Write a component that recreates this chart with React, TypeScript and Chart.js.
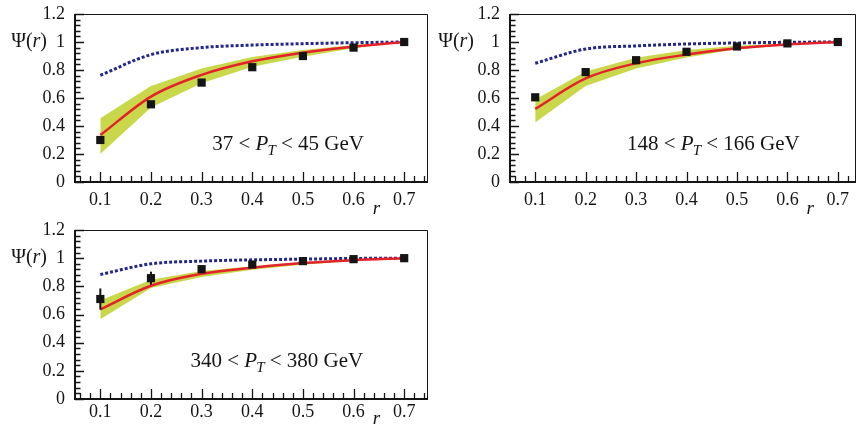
import React, { useEffect, useRef } from "react";
import { Chart, registerables } from "chart.js";

Chart.register(...registerables);

// ---------- data ----------
const R = [0.1, 0.2, 0.3, 0.4, 0.5, 0.6, 0.7];
const X_TICKS = [0.1, 0.2, 0.3, 0.4, 0.5, 0.6, 0.7];
const Y_TICKS = [0, 0.2, 0.4, 0.6, 0.8, 1, 1.2];

// panel 1 : 37 < PT < 45 GeV
const DATA_1 = [0.3, 0.555, 0.71, 0.82, 0.9, 0.96, 1.0];
const ERR_1 = [0.012, 0.01, 0.008, 0.006, 0.005, 0.004, 0.002];
const FIT_1 = [0.335, 0.61, 0.765, 0.862, 0.924, 0.966, 1.0];
const BAND_HI_1 = [0.455, 0.685, 0.81, 0.893, 0.943, 0.978, 1.0];
const BAND_LO_1 = [0.2, 0.533, 0.705, 0.824, 0.895, 0.955, 1.0];
const DOT_1 = [0.762, 0.91, 0.96, 0.978, 0.988, 0.995, 1.0];

// panel 2 : 148 < PT < 166 GeV
const DATA_2 = [0.605, 0.785, 0.87, 0.93, 0.968, 0.99, 1.0];
const ERR_2 = [0.012, 0.01, 0.008, 0.006, 0.005, 0.004, 0.002];
const FIT_2 = [0.522, 0.74, 0.848, 0.91, 0.955, 0.982, 1.0];
const BAND_HI_2 = [0.59, 0.79, 0.888, 0.943, 0.974, 0.99, 1.0];
const BAND_LO_2 = [0.425, 0.686, 0.81, 0.89, 0.948, 0.976, 1.0];
const DOT_2 = [0.848, 0.95, 0.972, 0.986, 0.993, 0.998, 1.0];

// panel 3 : 340 < PT < 380 GeV
const DATA_3 = [0.71, 0.858, 0.922, 0.955, 0.979, 0.993, 1.0];
const ERR_3 = [0.075, 0.046, 0.02, 0.012, 0.008, 0.005, 0.003];
const FIT_3 = [0.637, 0.804, 0.889, 0.932, 0.965, 0.986, 1.0];
const BAND_HI_3 = [0.7, 0.847, 0.908, 0.943, 0.972, 0.991, 1.0];
const BAND_LO_3 = [0.566, 0.788, 0.866, 0.917, 0.953, 0.979, 1.0];
const DOT_3 = [0.884, 0.96, 0.979, 0.988, 0.993, 0.998, 1.0];

const LABEL_1 = ["37 < ", " < 45 GeV"];
const LABEL_2 = ["148 < ", " < 166 GeV"];
const LABEL_3 = ["340 < ", " < 380 GeV"];

// ---------- styles ----------
const SERIF = "'Liberation Serif', 'Times New Roman', serif";
const BAND = "#c9d84a";
const RED = "#e4222a";
const BLUE = "#23268f";
const INK = "#151515";

type PanelCfg = {
  left: number;
  top: number;
  width: number;
  height: number;
  area: { left: number; top: number; right: number; bottom: number };
  xMax: number;
  data: number[];
  err: number[];
  fit: number[];
  hi: number[];
  lo: number[];
  dot: number[];
  label: string[];
  labelAt: { x: number; y: number };
  psiGap: number;
  xPad: number;
  rGap: number;
};

const PANELS: PanelCfg[] = [
  {
    left: 0, top: 0, width: 430, height: 215,
    area: { left: 75, top: 14, right: 428, bottom: 182 },
    xMax: 0.747,
    data: DATA_1, err: ERR_1, fit: FIT_1, hi: BAND_HI_1, lo: BAND_LO_1, dot: DOT_1,
    label: LABEL_1, labelAt: { x: 0.321, y: 0.229 }, psiGap: 28, xPad: 7, rGap: 27,
  },
  {
    left: 430, top: 0, width: 428, height: 215,
    area: { left: 80, top: 14, right: 426, bottom: 182 },
    xMax: 0.736,
    data: DATA_2, err: ERR_2, fit: FIT_2, hi: BAND_HI_2, lo: BAND_LO_2, dot: DOT_2,
    label: LABEL_2, labelAt: { x: 0.282, y: 0.229 }, psiGap: 36, xPad: 7, rGap: 27,
  },
  {
    left: 0, top: 215, width: 430, height: 214,
    area: { left: 75, top: 15, right: 428, bottom: 184 },
    xMax: 0.747,
    data: DATA_3, err: ERR_3, fit: FIT_3, hi: BAND_HI_3, lo: BAND_LO_3, dot: DOT_3,
    label: LABEL_3, labelAt: { x: 0.278, y: 0.229 }, psiGap: 28, xPad: 2, rGap: 20,
  },
];

const xy = (vals: number[]) => vals.map((v, i) => ({ x: R[i], y: v }));
const fmt = (v: number) => String(Math.round(v * 10) / 10);

function makeDecorPlugin(p: PanelCfg) {
  return {
    id: "decor",
    afterDatasetsDraw(chart: any) {
      const { ctx, chartArea: a, scales } = chart;
      const xs = scales.x;
      const ys = scales.y;
      ctx.save();

      // error bars
      ctx.strokeStyle = INK;
      ctx.lineWidth = 2;
      p.data.forEach((v, i) => {
        const e = p.err[i];
        const px = xs.getPixelForValue(R[i]);
        ctx.beginPath();
        ctx.moveTo(px, ys.getPixelForValue(v - e));
        ctx.lineTo(px, ys.getPixelForValue(v + e));
        ctx.stroke();
      });

      // frame
      ctx.strokeStyle = INK;
      ctx.lineWidth = 1;
      ctx.beginPath();
      ctx.moveTo(a.left, a.top + 0.5);
      ctx.lineTo(a.right - 0.5, a.top + 0.5);
      ctx.lineTo(a.right - 0.5, a.bottom);
      ctx.stroke();
      ctx.lineWidth = 2;
      ctx.beginPath();
      ctx.moveTo(a.left, a.top);
      ctx.lineTo(a.left, a.bottom);
      ctx.lineTo(a.right, a.bottom);
      ctx.stroke();

      // inner ticks
      ctx.lineWidth = 1.3;
      ctx.beginPath();
      for (let k = 0; k <= 30; k++) {
        const v = k * 0.04;
        const py = Math.round(ys.getPixelForValue(v)) + 0.5;
        const len = k % 5 === 0 ? 9 : 5.5;
        ctx.moveTo(a.left, py);
        ctx.lineTo(a.left + len, py);
      }
      for (let k = 3; k * 0.02 < p.xMax; k++) {
        const v = k * 0.02;
        const px = Math.round(xs.getPixelForValue(v)) + 0.5;
        const len = k % 5 === 0 ? 10 : 6;
        ctx.moveTo(px, a.bottom);
        ctx.lineTo(px, a.bottom - len);
      }
      ctx.stroke();

      // Psi(r) axis label
      ctx.fillStyle = INK;
      ctx.textBaseline = "middle";
      const normal = `20px ${SERIF}`;
      const ital = `italic 20px ${SERIF}`;
      const parts: [string, string][] = [["Ψ(", normal], ["r", ital], [")", normal]];
      let total = 0;
      parts.forEach(([t, f]) => { ctx.font = f; total += ctx.measureText(t).width; });
      let cx = a.left - p.psiGap - total;
      const cy = ys.getPixelForValue(1);
      parts.forEach(([t, f]) => {
        ctx.font = f;
        ctx.fillText(t, cx, cy);
        cx += ctx.measureText(t).width;
      });

      // r axis title
      ctx.font = `italic 19px ${SERIF}`;
      ctx.textAlign = "center";
      ctx.fillText("r", xs.getPixelForValue(0.645), a.bottom + p.rGap);
      ctx.textAlign = "left";

      // annotation
      ctx.textBaseline = "alphabetic";
      let lx = xs.getPixelForValue(p.labelAt.x);
      const ly = ys.getPixelForValue(p.labelAt.y);
      ctx.font = `21px ${SERIF}`;
      ctx.fillText(p.label[0], lx, ly);
      lx += ctx.measureText(p.label[0]).width;
      ctx.font = `italic 21px ${SERIF}`;
      ctx.fillText("P", lx, ly);
      lx += ctx.measureText("P").width - 1;
      ctx.font = `italic 15px ${SERIF}`;
      ctx.fillText("T", lx, ly + 5);
      lx += ctx.measureText("T").width;
      ctx.font = `21px ${SERIF}`;
      ctx.fillText(p.label[1], lx, ly);

      ctx.restore();
    },
  };
}

function Panel({ p }: { p: PanelCfg }) {
  const ref = useRef<HTMLCanvasElement | null>(null);
  useEffect(() => {
    if (!ref.current) return;
    const tickFont = { family: SERIF, size: 18, weight: "normal" };
    const chart = new Chart(ref.current, {
      type: "line",
      data: {
        datasets: [
          {
            data: xy(p.hi), borderWidth: 0, pointRadius: 0, tension: 0,
            backgroundColor: BAND, borderColor: BAND, fill: "+1", order: 10,
          },
          {
            data: xy(p.lo), borderWidth: 0, pointRadius: 0, tension: 0,
            borderColor: BAND, fill: false, order: 11,
          },
          {
            data: xy(p.dot), borderColor: BLUE, borderWidth: 3, borderDash: [3, 2],
            borderCapStyle: "butt",
            pointRadius: 0, cubicInterpolationMode: "monotone", fill: false, order: 3,
          },
          {
            data: xy(p.fit), borderColor: RED, borderWidth: 2.5,
            pointRadius: 0, cubicInterpolationMode: "monotone", fill: false, order: 2,
          },
          {
            data: xy(p.data), showLine: false, pointStyle: "rect", pointRadius: 5.8,
            backgroundColor: INK, borderColor: INK, borderWidth: 0, order: 1,
          },
        ] as any,
      },
      options: {
        animation: false,
        responsive: false,
        events: [],
        layout: {
          autoPadding: false,
          padding: { left: 0, top: p.area.top, right: p.width - p.area.right, bottom: 0 },
        },
        plugins: { legend: { display: false }, tooltip: { enabled: false } },
        scales: {
          x: {
            type: "linear",
            min: 0.05,
            max: p.xMax,
            grid: { display: false, drawTicks: false },
            border: { display: false },
            afterBuildTicks: (s: any) => { s.ticks = X_TICKS.map((v) => ({ value: v })); },
            afterFit: (s: any) => {
              s.height = p.height - p.area.bottom;
              s.paddingLeft = 0;
              s.paddingRight = 0;
            },
            ticks: {
              font: tickFont, color: INK, padding: p.xPad, maxRotation: 0, autoSkip: false,
              callback: (v: any) => fmt(Number(v)),
            },
          },
          y: {
            type: "linear",
            min: 0,
            max: 1.2,
            grid: { display: false, drawTicks: false },
            border: { display: false },
            afterBuildTicks: (s: any) => { s.ticks = Y_TICKS.map((v) => ({ value: v })); },
            afterFit: (s: any) => {
              s.width = p.area.left;
              s.paddingTop = 0;
              s.paddingBottom = 0;
            },
            ticks: {
              font: tickFont, color: INK, padding: 10, autoSkip: false,
              callback: (v: any) => fmt(Number(v)),
            },
          },
        },
      } as any,
      plugins: [makeDecorPlugin(p)],
    });
    return () => chart.destroy();
  }, [p]);
  return (
    <canvas
      ref={ref}
      width={p.width}
      height={p.height}
      style={{ position: "absolute", left: p.left, top: p.top, width: p.width, height: p.height }}
    />
  );
}

export default function App() {
  return (
    <div style={{ position: "absolute", left: 0, top: 0, width: 858, height: 429, background: "#fff" }}>
      {PANELS.map((p, i) => (
        <Panel key={i} p={p} />
      ))}
    </div>
  );
}
